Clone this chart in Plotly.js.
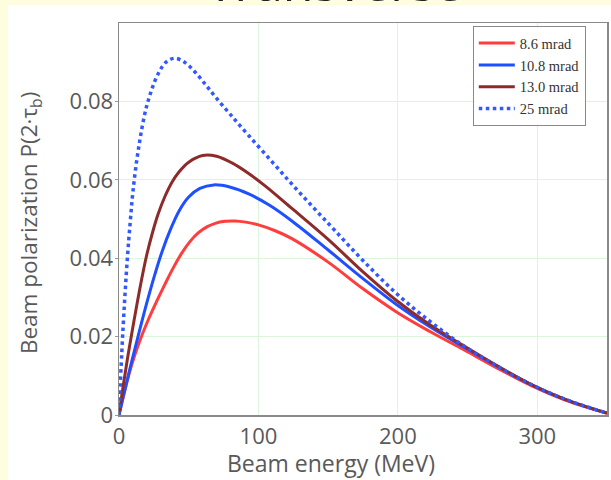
<!DOCTYPE html>
<html>
<head>
<meta charset="utf-8">
<script src="https://cdn.plot.ly/plotly-3.0.1.min.js"></script>
<style>
  html, body { margin: 0; padding: 0; background: #fffde0; }
  #chart { width: 611px; height: 480px; }
</style>
</head>
<body>
<div id="chart"></div>
<script>
// Beam energy (MeV) and beam polarization P(2·τb) for each collimation angle
const energy86 = [0, 4, 9, 15, 21, 27, 33, 39, 45, 51, 57, 63, 69, 76, 83, 91, 100, 112, 124, 150, 175, 199, 223, 247, 270, 295, 320, 350];
const pol86    = [0, 0.0060, 0.0127, 0.0190, 0.0243, 0.0290, 0.0334, 0.0376, 0.0413, 0.0443, 0.0465, 0.0480, 0.0489, 0.0494, 0.0495, 0.0492, 0.0485, 0.0470, 0.0450, 0.0390, 0.0322, 0.0263, 0.0213, 0.0167, 0.0122, 0.0076, 0.0038, 0.0004];

const energy108 = [0, 3, 7, 12, 16, 21, 26, 31, 37, 43, 50, 58, 68, 80, 93, 108, 124, 150, 175, 199, 223, 247, 270, 295, 320, 350];
const pol108    = [0, 0.0046, 0.0106, 0.0177, 0.0233, 0.0300, 0.0362, 0.0418, 0.0474, 0.0520, 0.0556, 0.0578, 0.0587, 0.0581, 0.0564, 0.0535, 0.0495, 0.0421, 0.0348, 0.0282, 0.0225, 0.0174, 0.0127, 0.0079, 0.0040, 0.0005];

const energy130 = [0, 3, 6, 9, 13, 16, 20, 24, 28, 33, 38, 43, 50, 60, 70, 81, 93, 105, 124, 150, 175, 199, 223, 247, 270, 295, 320, 350];
const pol130    = [0, 0.0074, 0.0142, 0.0205, 0.0285, 0.0342, 0.0410, 0.0465, 0.0512, 0.0558, 0.0594, 0.0620, 0.0645, 0.0662, 0.0660, 0.0643, 0.0616, 0.0584, 0.0527, 0.0448, 0.0365, 0.0292, 0.0230, 0.0177, 0.0128, 0.0079, 0.0040, 0.0005];

const energy25 = [0, 2, 4, 6, 8, 10, 14, 20, 28, 34, 40, 47, 54, 62, 69, 80, 93, 110, 125, 140, 155, 175, 199, 223, 247, 270, 295, 320, 350];
const pol25    = [0, 0.016, 0.029, 0.040, 0.049, 0.057, 0.068, 0.079, 0.087, 0.0901, 0.0910, 0.0900, 0.0877, 0.0843, 0.0812, 0.0766, 0.0713, 0.0645, 0.0585, 0.0527, 0.0470, 0.0394, 0.0310, 0.0239, 0.0177, 0.0127, 0.0079, 0.0040, 0.0005];

const seriesNames = ['8.6 mrad', '10.8 mrad', '13.0 mrad', '25 mrad'];
const xTicks = [0, 100, 200, 300];
const yTicks = [0, 0.02, 0.04, 0.06, 0.08];
const yTickText = ['0', '0.02', '0.04', '0.06', '0.08'];

const traces = [
  { x: energy86,  y: pol86,  name: seriesNames[0], line: { color: '#ff3d3d', width: 3, shape: 'spline' } },
  { x: energy108, y: pol108, name: seriesNames[1], line: { color: '#1f50ff', width: 3, shape: 'spline' } },
  { x: energy130, y: pol130, name: seriesNames[2], line: { color: '#8d2b2b', width: 3, shape: 'spline' } },
  { x: energy25,  y: pol25,  name: seriesNames[3], line: { color: '#3358ff', width: 3.5, dash: 'dot', shape: 'spline' } }
].map(t => Object.assign({ type: 'scatter', mode: 'lines' }, t));

const textGray = '#595959';
const tickFont = { family: 'Open Sans, sans-serif', size: 22, color: textGray };

const layout = {
  width: 611,
  height: 480,
  margin: { l: 119, r: 4, t: 23, b: 65 },
  paper_bgcolor: '#fffde0',
  plot_bgcolor: '#ffffff',
  showlegend: true,
  legend: {
    x: 0.725, y: 0.992, xanchor: 'left', yanchor: 'top',
    bgcolor: '#ffffff', bordercolor: '#8a8a8a', borderwidth: 1,
    font: { family: 'Liberation Serif, serif', size: 14.5, color: '#333333' },
    itemwidth: 36
  },
  xaxis: {
    range: [0, 350],
    tickvals: xTicks,
    ticktext: xTicks.map(String),
    tickfont: tickFont,
    ticklabelstandoff: 1,
    showgrid: true, gridcolor: '#dcf5dc', gridwidth: 1,
    zeroline: false,
    showline: true, linecolor: '#8a8a8a', linewidth: 1.5, mirror: true,
    ticks: ''
  },
  yaxis: {
    range: [0, 0.1],
    tickvals: yTicks,
    ticktext: yTickText,
    tickfont: tickFont,
    ticklabelstandoff: -3,
    showgrid: true, gridcolor: '#dcf5dc', gridwidth: 1,
    zeroline: false,
    showline: true, linecolor: '#8a8a8a', linewidth: 1.5, mirror: true,
    ticks: 'outside', ticklen: 3, tickcolor: '#9a9a9a'
  },
  shapes: [
    // white slide area behind the chart
    { type: 'rect', xref: 'paper', yref: 'paper', layer: 'below',
      x0: -0.2275, x1: 1.01, y0: -0.17, y1: 1.046,
      fillcolor: '#ffffff', line: { width: 0 } }
  ],
  annotations: [
    { text: 'Transverse', xref: 'paper', yref: 'paper', x: 0.4426, y: 1.0128,
      xanchor: 'center', yanchor: 'bottom', showarrow: false,
      font: { family: 'Open Sans, sans-serif', size: 50, color: '#222222' } },
    { text: 'Beam energy (MeV)', xref: 'paper', yref: 'paper', x: 0.434, y: -0.1224,
      xanchor: 'center', yanchor: 'middle', showarrow: false,
      font: { family: 'Open Sans, sans-serif', size: 23, color: textGray } },
    { text: 'Beam polarization P(2·τ<sub>b</sub>)', xref: 'paper', yref: 'paper', x: -0.1824, y: 0.492,
      xanchor: 'center', yanchor: 'middle', textangle: -90, showarrow: false,
      font: { family: 'Open Sans, sans-serif', size: 22.5, color: textGray } }
  ]
};

Plotly.newPlot('chart', traces, layout, { displayModeBar: false, staticPlot: true });
</script>
</body>
</html>
